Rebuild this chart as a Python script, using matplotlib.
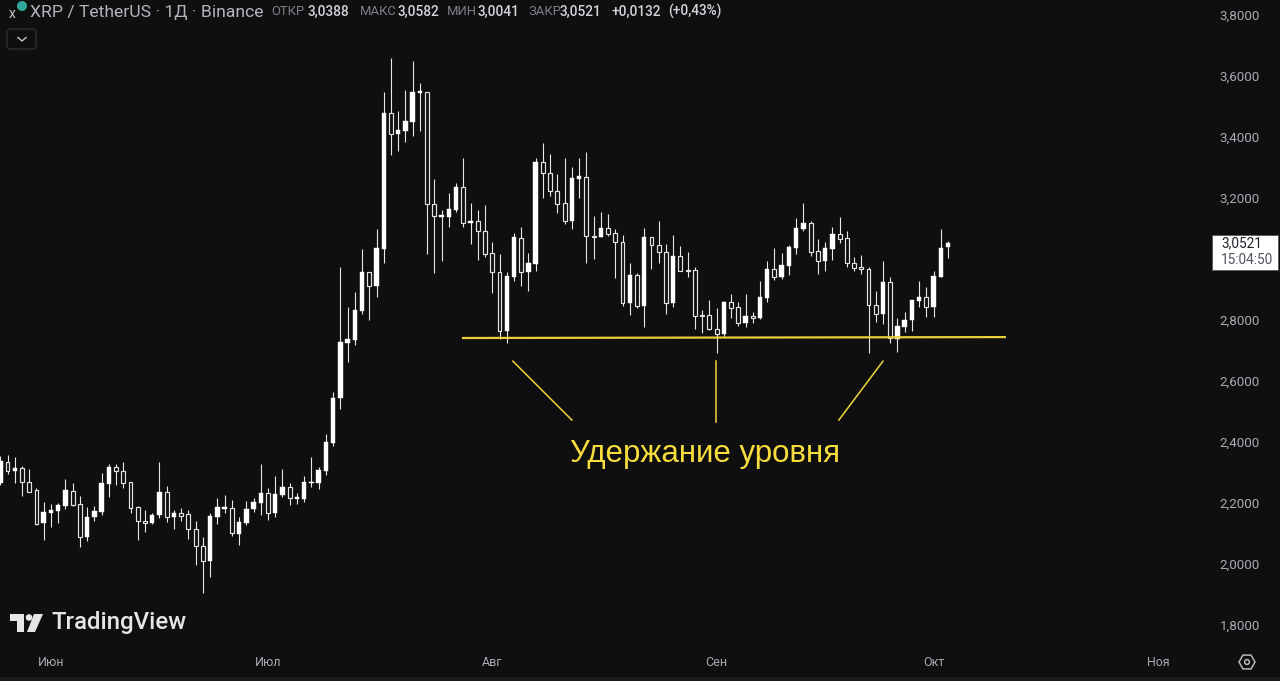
import matplotlib
matplotlib.use("Agg")
import matplotlib.pyplot as plt
from matplotlib.patches import Polygon, Circle, FancyBboxPatch, Rectangle, RegularPolygon

opens = [2.266,2.335,2.306,2.314,2.270,2.242,2.133,2.168,2.175,2.190,2.240,2.197,2.088,2.153,2.170,2.262,2.317,2.304,2.268,2.188,
 2.142,2.133,2.160,2.235,2.153,2.168,2.163,2.115,2.060,2.011,2.153,2.179,2.183,2.097,2.135,2.179,2.201,2.232,2.166,2.226,
 2.252,2.214,2.212,2.265,2.265,2.306,2.396,2.543,2.726,2.734,2.830,2.956,2.912,3.032,3.478,3.410,3.421,3.450,3.544,3.549,
 3.179,3.138,3.139,3.161,3.235,3.117,3.124,3.093,3.020,2.958,2.764,2.942,3.069,2.956,2.984,3.317,3.282,3.224,3.183,3.126,
 3.262,3.270,3.075,3.073,3.101,3.084,3.057,2.855,2.947,2.846,3.072,3.045,3.022,2.855,3.009,2.965,2.964,2.815,2.815,2.771,
 2.754,2.859,2.842,2.790,2.812,2.806,2.872,2.967,2.942,2.977,3.035,3.099,3.117,3.025,2.992,3.033,3.081,3.069,2.987,2.973,
 2.967,2.850,2.819,2.924,2.739,2.778,2.799,2.863,2.876,2.843,2.940,3.0388]
highs = [2.354,2.357,2.352,2.321,2.311,2.248,2.204,2.197,2.201,2.278,2.265,2.223,2.188,2.190,2.297,2.327,2.327,2.334,2.270,2.190,
 2.177,2.168,2.333,2.256,2.177,2.185,2.177,2.142,2.088,2.166,2.215,2.226,2.210,2.153,2.207,2.217,2.327,2.248,2.288,2.311,
 2.265,2.234,2.288,2.352,2.319,2.426,2.565,2.975,2.844,2.893,3.032,2.957,3.097,3.547,3.660,3.485,3.554,3.649,3.576,3.549,
 3.262,3.161,3.215,3.248,3.330,3.183,3.161,3.176,3.055,3.016,2.958,3.086,3.104,3.019,3.332,3.379,3.344,3.278,3.332,3.303,
 3.332,3.350,3.141,3.154,3.148,3.098,3.078,2.988,2.955,3.102,3.073,3.126,3.049,3.078,3.043,3.024,2.973,2.833,2.866,2.838,
 2.862,2.884,2.860,2.884,2.827,2.928,2.994,3.035,3.021,3.046,3.136,3.183,3.125,3.064,3.056,3.106,3.137,3.092,3.008,3.013,
 2.973,2.895,2.994,2.942,2.808,2.825,2.866,2.928,2.907,2.961,3.097,3.0582]
lows = [2.259,2.295,2.265,2.224,2.235,2.128,2.079,2.122,2.133,2.179,2.190,2.057,2.076,2.142,2.161,2.221,2.259,2.250,2.168,2.079,
 2.106,2.131,2.150,2.139,2.115,2.141,2.081,1.996,1.904,1.958,2.130,2.168,2.093,2.062,2.128,2.171,2.161,2.144,2.153,2.221,
 2.193,2.197,2.204,2.253,2.246,2.292,2.388,2.508,2.661,2.718,2.819,2.800,2.874,2.986,3.340,3.353,3.383,3.404,3.420,3.016,
 2.955,2.993,3.106,3.155,3.106,3.049,2.997,3.006,2.890,2.737,2.726,2.929,2.911,2.896,2.962,3.199,3.207,3.150,3.114,3.099,
 3.199,2.988,3.000,3.071,3.075,2.939,2.847,2.816,2.838,2.778,2.967,2.986,2.819,2.842,2.962,2.940,2.769,2.758,2.767,2.693,
 2.745,2.806,2.780,2.776,2.791,2.804,2.860,2.931,2.933,2.948,3.015,3.091,3.010,2.951,2.962,2.997,3.051,2.975,2.962,2.950,
 2.691,2.794,2.787,2.724,2.696,2.760,2.764,2.842,2.810,2.810,2.940,3.0041]
closes = [2.339,2.306,2.314,2.268,2.237,2.131,2.170,2.177,2.193,2.242,2.192,2.088,2.155,2.174,2.265,2.317,2.304,2.267,2.185,2.142,
 2.133,2.162,2.235,2.155,2.168,2.157,2.114,2.059,2.011,2.157,2.186,2.187,2.101,2.139,2.181,2.203,2.232,2.166,2.229,2.253,
 2.215,2.220,2.268,2.269,2.308,2.401,2.543,2.729,2.737,2.833,2.956,2.912,3.035,3.478,3.410,3.423,3.452,3.547,3.550,3.179,
 3.142,3.143,3.163,3.235,3.119,3.125,3.091,3.016,2.956,2.764,2.944,3.071,2.957,2.988,3.318,3.281,3.222,3.181,3.126,3.266,
 3.271,3.074,3.073,3.102,3.082,3.056,2.855,2.947,2.846,3.073,3.045,3.022,2.855,3.009,2.962,2.962,2.814,2.813,2.769,2.755,
 2.860,2.840,2.791,2.813,2.806,2.874,2.967,2.942,2.979,3.038,3.102,3.117,3.023,2.992,3.035,3.081,3.067,2.986,2.972,2.966,
 2.849,2.820,2.924,2.740,2.780,2.800,2.866,2.876,2.843,2.944,3.035,3.0521]

month_labels = ["Июн", "Июл", "Авг", "Сен", "Окт", "Ноя"]
month_positions = [7, 37, 68, 99, 129, 160]
price_ticks = [3.8, 3.6, 3.4, 3.2, 2.8, 2.6, 2.4, 2.2, 2.0, 1.8]

level_x = [63.8, 139.0]
level_y = [2.741, 2.744]
pointer_xs = [[70.85, 79.0], [98.9, 98.9], [122.0, 115.9]]
pointer_ys = [[2.665, 2.472], [2.665, 2.466], [2.665, 2.472]]
note_text = "Удержание уровня"
note_pos = (97.4, 2.361)

BG = "#0f0f0f"
W, H = 1280, 681
PLOT_W, PLOT_H = 1210, 648
UI = "Roboto"

fig = plt.figure(figsize=(W / 100, H / 100), dpi=100, facecolor=BG)
ax = fig.add_axes([0, 1 - PLOT_H / H, PLOT_W / W, PLOT_H / H], facecolor=BG)
ax.set_xlim(-0.0415, 167.2)
ax.set_ylim(3.8492 - PLOT_H / 305, 3.8492)

for i, (o, h, l, c) in enumerate(zip(opens, highs, lows, closes)):
    ax.vlines(i, l, h, color="#e8e8e8", lw=0.8, zorder=2)
    bottom, height = min(o, c), abs(c - o)
    if c >= o:
        ax.bar(i, height, 0.62, bottom, color="white", edgecolor="white", lw=0.3, zorder=3)
    else:
        ax.bar(i, height, 0.54, bottom, facecolor=BG, edgecolor="#e4e4e4", lw=0.85, zorder=3)

ax.plot(level_x, level_y, color="#e8cf3a", lw=1.6, solid_capstyle="butt", zorder=4)
for xs, ys in zip(pointer_xs, pointer_ys):
    ax.plot(xs, ys, color="#f0d53c", lw=1.1, zorder=4)
ax.text(*note_pos, note_text, color="#f7dc3e", fontsize=22.5, family="Liberation Sans",
        ha="center", va="center", zorder=4)

for s in ax.spines.values():
    s.set_visible(False)
ax.set_xticks(month_positions, month_labels)
ax.set_yticks(price_ticks, [f"{p:.4f}".replace(".", ",") for p in price_ticks])
ax.yaxis.tick_right()
ax.tick_params(axis="x", length=0, pad=6, labelcolor="#a8abb4", labelsize=9)
ax.tick_params(axis="y", length=0, pad=7, labelcolor="#a8abb4", labelsize=9.6)
for t in ax.get_xticklabels() + ax.get_yticklabels():
    t.set_family(UI)

# interface chrome drawn in pixel space
ui = fig.add_axes([0, 0, 1, 1], facecolor="none", zorder=5)
ui.set_xlim(0, W)
ui.set_ylim(H, 0)
ui.axis("off")

def label(x, y, s, color, size, weight="normal", ha="left", family=UI):
    ui.text(x, y, s, color=color, fontsize=size, fontweight=weight, ha=ha, va="center", family=family)

ui.add_patch(Rectangle((0, 677), W, 4, color="#1c1c1c", lw=0))
ui.add_patch(Circle((22, 6), 5, color="#2fa89a", lw=0))
label(9, 14, "x", "#c8c8c8", 10)
label(30, 12, "XRP / TetherUS · 1Д · Binance", "#b2b5be", 12.6)
for x, s in [(271, "ОТКР"), (360, "МАКС"), (447, "МИН"), (528, "ЗАКР")]:
    label(x, 11.5, s, "#7d808a", 9.4)
for x, s in [(308, "3,0388"), (397, "3,0582"), (478, "3,0041"), (560, "3,0521"),
             (612, "+0,0132"), (668, "(+0,43%)")]:
    label(x, 11.5, s, "#d1d4dc", 9.8, "medium")

ui.add_patch(FancyBboxPatch((7, 29), 29, 20, boxstyle="round,pad=0,rounding_size=3",
                            fc=BG, ec="#2e2e2e", lw=1))
ui.plot([18, 22, 26], [37.5, 41, 37.5], color="#c4c4c4", lw=1)

# TradingView mark
wm = "#e6e6e6"
ui.add_patch(Polygon([(10, 614), (24, 614), (24, 632), (16.5, 632), (16.5, 621), (10, 621)], color=wm, lw=0))
ui.add_patch(Circle((29, 617.5), 3.3, color=wm, lw=0))
ui.add_patch(Polygon([(34, 614), (43, 614), (35, 632), (27, 632)], color=wm, lw=0))
label(51, 623, "TradingView", wm, 17.3, "medium")

# last price tag
ui.add_patch(Rectangle((1212, 234.5), 66, 35, fc="white", ec="#555555", lw=0.6))
label(1221, 243.5, "3,0521", "#20222a", 9.8)
label(1221, 260, "15:04:50", "#50535c", 9.8)

# settings icon
ui.add_patch(RegularPolygon((1247, 662), 6, radius=8, orientation=0.5236, fc="none", ec="#b8b8b8", lw=1.1))
ui.add_patch(Circle((1247, 662), 2.4, fc="none", ec="#b8b8b8", lw=1.1))

fig.savefig("out.png", dpi=100, facecolor=BG)
